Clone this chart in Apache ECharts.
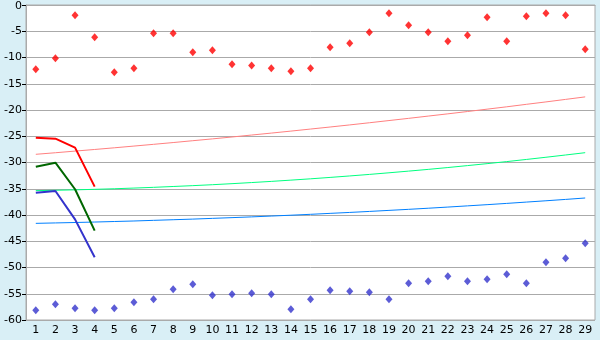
<!DOCTYPE html>
<html><head><meta charset="utf-8">
<script src="https://cdn.jsdelivr.net/npm/echarts@6/dist/echarts.min.js"></script>
<style>html,body{margin:0;padding:0;background:#d9eff6;}#c{width:600px;height:340px;}</style>
</head><body><div id="c"></div>
<script>
var categories = ['1','2','3','4','5','6','7','8','9','10','11','12','13','14','15','16','17','18','19','20','21','22','23','24','25','26','27','28','29'];
var redPoints = [-12.25,-10.16,-1.97,-6.16,-12.83,-12.06,-5.4,-5.4,-9.02,-8.63,-11.3,-11.5,-12.06,-12.63,-12.06,-8.06,-7.3,-5.21,-1.59,-3.87,-5.21,-6.92,-5.78,-2.35,-6.92,-2.16,-1.59,-1.97,-8.44];
var bluePoints = [-58.16,-57.02,-57.78,-58.16,-57.78,-56.63,-56.06,-54.16,-53.2,-55.3,-55.1,-54.9,-55.1,-57.97,-56.06,-54.35,-54.54,-54.73,-56.06,-53.02,-52.63,-51.68,-52.63,-52.25,-51.3,-53.02,-49.0,-48.25,-45.4];
var redThick = [-25.27,-25.46,-27.17,-34.6];
var greenThick = [-30.8,-30.03,-35.1,-42.98];
var blueThick = [-35.75,-35.43,-40.83,-48.06];
var pinkTrend = [-28.44,-28.14,-27.83,-27.52,-27.20,-26.87,-26.54,-26.20,-25.85,-25.50,-25.14,-24.77,-24.40,-24.02,-23.63,-23.24,-22.84,-22.43,-22.01,-21.59,-21.16,-20.73,-20.29,-19.84,-19.39,-18.92,-18.46,-17.98,-17.50];
var greenTrend = [-35.36,-35.29,-35.21,-35.11,-35.00,-34.87,-34.73,-34.57,-34.41,-34.23,-34.03,-33.82,-33.60,-33.36,-33.11,-32.84,-32.56,-32.27,-31.96,-31.64,-31.31,-30.96,-30.59,-30.22,-29.83,-29.42,-29.00,-28.57,-28.13];
var blueTrend = [-41.59,-41.51,-41.43,-41.34,-41.24,-41.14,-41.02,-40.90,-40.78,-40.64,-40.50,-40.36,-40.20,-40.04,-39.87,-39.69,-39.51,-39.32,-39.12,-38.92,-38.71,-38.49,-38.26,-38.03,-37.79,-37.54,-37.29,-37.03,-36.76];

var chart = echarts.init(document.getElementById('c'), null, {renderer:'canvas'});
var font = {fontFamily:'DejaVu Sans', fontSize:11, color:'#000'};
function line(data, color, width, z){
  return {type:'line', data:data, symbol:'none', z:z, animation:false,
    lineStyle:{color:color, width:width}, itemStyle:{color:color}};
}
function scatter(data, color){
  return {type:'scatter', data:data, symbol:'diamond', symbolSize:[7,8], z:10, animation:false,
    itemStyle:{color:color}};
}
chart.setOption({
  backgroundColor:'#d9eff6',
  animation:false,
  grid:{left:26, top:5, right:5, bottom:20, show:true, backgroundColor:'#ffffff', borderColor:'#aaaaaa', borderWidth:1},
  xAxis:{type:'category', data:categories, boundaryGap:true,
    axisLine:{lineStyle:{color:'#aaaaaa'}},
    axisTick:{alignWithLabel:true, length:5, lineStyle:{color:'#000'}},
    axisLabel:Object.assign({margin:5, interval:0}, font),
    splitLine:{show:false}},
  yAxis:{type:'value', min:-60, max:0, interval:5,
    axisLine:{show:true, lineStyle:{color:'#aaaaaa'}},
    axisTick:{show:true, length:4, lineStyle:{color:'#000'}},
    axisLabel:Object.assign({margin:4,
      formatter:function(v){ return v === 0 ? '{z|0}' : String(v); },
      rich:{z:{fontFamily:'DejaVu Sans', fontSize:11, color:'#000', padding:[3,0,0,0]}}}, font),
    splitLine:{show:true, lineStyle:{color:'#aaaaaa', width:1}}},
  series:[
    line(pinkTrend,'#ff8080',1,3),
    line(greenTrend,'#00ff80',1,3),
    line(blueTrend,'#0080ff',1,3),
    line(redThick,'#ff0000',2,4),
    line(greenThick,'#006600',2,4),
    line(blueThick,'#3333cc',2,4),
    scatter(redPoints,'#ff0000'),
    scatter(bluePoints,'#3333cc')
  ]
});
</script></body></html>
